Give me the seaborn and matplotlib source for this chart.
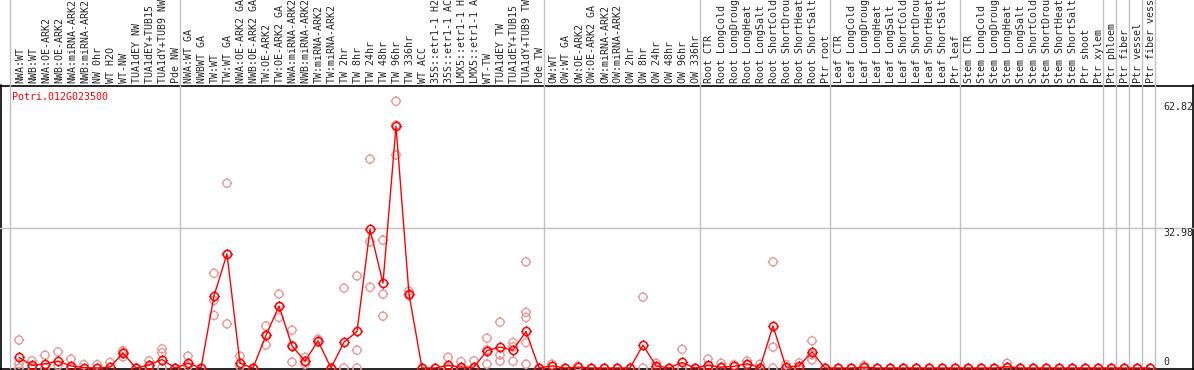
import numpy as np
import pandas as pd
import matplotlib
matplotlib.use("Agg")
import matplotlib.pyplot as plt
from matplotlib.path import Path
from matplotlib.transforms import blended_transform_factory
import seaborn as sns

sns.set_style("white")
plt.rcParams['font.family'] = ['DejaVu Sans Mono']

gene = "Potri.012G023500"

labels = [
    "NWA:WT", "NWB:WT", "NWA:OE-ARK2", "NWB:OE-ARK2", "NWA:miRNA-ARK2", "NWB:miRNA-ARK2",
    "NW 0hr", "WT H2O", "WT-NW", "TUA1dEY NW", "TUA1dEY+TUB15 NW", "TUA1dY+TUB9 NW", "Pde NW",
    "NWA:WT GA", "NWBWT GA", "TW:WT", "TW:WT GA", "NWA:OE-ARK2 GA", "NWB:OE-ARK2 GA",
    "TW:OE-ARK2", "TW:OE-ARK2 GA", "NWA:miRNA-ARK2 GA", "NWB:miRNA-ARK2 GA", "TW:miRNA-ARK2",
    "TW:miRNA-ARK2 GA", "TW 2hr", "TW 8hr", "TW 24hr", "TW 48hr", "TW 96hr", "TW 336hr",
    "WT ACC", "35S::etr1-1 H2O", "35S::etr1-1 ACC", "LMX5::etr1-1 H2O", "LMX5::etr1-1 ACC",
    "WT-TW", "TUA1dEY TW", "TUA1dEY+TUB15 TW", "TUA1dY+TUB9 TW", "Pde TW",
    "OW:WT", "OW:WT GA", "OW:OE-ARK2", "OW:OE-ARK2 GA", "OW:miRNA-ARK2", "OW:miRNA-ARK2 GA",
    "OW 2hr", "OW 8hr", "OW 24hr", "OW 48hr", "OW 96hr", "OW 336hr",
    "Root CTR", "Root LongCold", "Root LongDrought", "Root LongHeat", "Root LongSalt",
    "Root ShortCold", "Root ShortDrought", "Root ShortHeat", "Root ShortSalt", "Ptr root",
    "Leaf CTR", "Leaf LongCold", "Leaf LongDrought", "Leaf LongHeat", "Leaf LongSalt",
    "Leaf ShortCold", "Leaf ShortDrought", "Leaf ShortHeat", "Leaf ShortSalt", "Ptr leaf",
    "Stem CTR", "Stem LongCold", "Stem LongDrought", "Stem LongHeat", "Stem LongSalt",
    "Stem ShortCold", "Stem ShortDrought", "Stem ShortHeat", "Stem ShortSalt", "Ptr shoot",
    "Ptr xylem", "Ptr phloem", "Ptr fiber", "Ptr vessel", "Ptr fiber vessel",
]
group_sizes = [13, 28, 12, 10, 10, 11, 1, 1, 1, 1]

means = [
    2.5, 0.6, 1.0, 1.6, 0.5, 0.1, 0.0, 0.2, 3.5, 0.0, 0.7, 2.0, 0.0,
    1.1, 0.0, 17.0, 26.9, 1.1, 0.0, 7.7, 14.6, 5.2, 1.6, 6.4, 0.0, 6.1, 8.6,
    32.7, 20.0, 57.0, 17.4, 0.0, 0.0, 0.6, 0.2, 0.2, 4.1, 4.9, 4.2, 8.6, 0.0,
    0.5, 0.0, 0.2, 0.0, 0.0, 0.0, 0.0, 5.4, 0.5, 0.0, 1.3, 0.0,
    0.6, 0.2, 0.4, 1.0, 0.1, 9.9, 0.2, 0.5, 3.8, 0.0,
    0.0, 0.0, 0.2, 0.0, 0.0, 0.0, 0.0, 0.0, 0.0, 0.0,
    0.0, 0.0, 0.0, 0.3, 0.0, 0.0, 0.0, 0.0, 0.0, 0.0, 0.0,
    0.0, 0.0, 0.0, 0.0,
]

reps = [
    [6.6, 1.0, 0.0], [1.7, 0.2], [3.0, 0.0], [3.8, 0.6], [2.1, 0.0], [0.8], [0.8],
    [1.3], [4.1, 3.8, 2.6], [0.0], [1.7, 0.3], [4.5, 3.6, 0.0], [0.0],
    [2.8, 0.4], [0.0], [22.3, 15.9, 12.4], [43.5, 26.8, 10.4], [2.8, 0.4], [0.0],
    [9.9, 7.8, 5.4], [17.4, 14.5, 11.9], [8.9, 5.3, 1.4], [2.5, 1.5, 0.9], [6.8, 6.1],
    [0.0], [18.8, 0.0], [21.7, 4.2, 0.0], [49.2, 29.7, 19.0], [30.1, 17.4, 12.2],
    [62.82, 57.2, 50.2], [18.1, 17.2, 17.0], [0.0], [0.0], [2.5, 0.0], [1.5, 0.0],
    [1.7, 0.0], [7.0, 4.3, 0.9], [10.8, 3.1, 1.6], [6.0, 5.0, 1.6],
    [25.0, 13.1, 11.9, 6.0, 0.9], [0.0],
    [0.9], [0.0], [0.5], [0.0], [0.0], [0.0], [0.0], [16.7, 0.0], [1.1, 0.0], [0.0],
    [4.4, 0.0], [0.0],
    [2.1, 0.0], [1.1, 0.0], [0.8], [1.6, 0.8], [0.9, 0.0], [25.0, 4.9, 0.0], [0.8, 0.0],
    [1.2, 0.0], [6.4, 3.1, 1.9], [0.0],
    [0.0], [0.0], [0.6, 0.0], [0.0], [0.0], [0.0], [0.0], [0.0], [0.0], [0.0],
    [0.0], [0.0], [0.0], [1.1, 0.0], [0.0], [0.0], [0.0], [0.0], [0.0], [0.0], [0.0],
    [0.0], [0.0], [0.0], [0.0],
]

tick_values = [0, 32.98, 62.82]

pos = np.arange(len(labels))
df_mean = pd.DataFrame({"pos": pos, "value": means})
df_rep = pd.DataFrame([(i, v) for i, vals in enumerate(reps) for v in vals],
                      columns=["pos", "value"])

# circle marker with four little ticks
circ = Path.unit_circle()
t = 1.3
verts = np.concatenate([circ.vertices,
                        [[0, 1], [0, t], [0, -1], [0, -t], [1, 0], [t, 0], [-1, 0], [-t, 0]]])
codes = np.concatenate([circ.codes, [Path.MOVETO, Path.LINETO] * 4])
ring = Path(verts, codes)

W, H = 1194, 370
fig = plt.figure(figsize=(W / 100, H / 100), dpi=100)
x0, x1, ytop, ybot = 10, 1155, 85, 368
step, first = 13.0, 19
yscale = 4.245

frame = fig.add_axes([0, 0, 1, 1], zorder=0)
frame.set_xlim(0, W)
frame.set_ylim(H, 0)
frame.axis("off")

ax = fig.add_axes([x0 / W, (H - ybot) / H, (x1 - x0) / W, (ybot - ytop) / H], zorder=1)
ax.patch.set_alpha(0)
ax.set_xlim((x0 - first) / step, (x1 - first) / step)
ax.set_ylim(0, (ybot - ytop) / yscale)
ax.set_xticks([])
ax.set_yticks([])
for s in ax.spines.values():
    s.set_visible(False)

grey = "#c0c0c0"
up = ybot / (ybot - ytop)
bounds = np.cumsum(group_sizes) - 1 + 0.4
ax.axvline(ax.get_xlim()[0], ymin=0, ymax=up, color=grey, lw=1, clip_on=False, zorder=0)
for b in bounds:
    ax.axvline(b, ymin=0, ymax=up, color=grey, lw=1, clip_on=False, zorder=0)
ax.axhline(tick_values[1], xmin=-x0 / (x1 - x0), xmax=(W - 1 - x0) / (x1 - x0),
           color=grey, lw=1, clip_on=False, zorder=0)

# frame lines
frame.plot([0, W], [ytop + 0.5, ytop + 0.5], color="black", lw=1.2)
frame.plot([0, W], [ybot + 0.5, ybot + 0.5], color="black", lw=1.2)
frame.plot([0.5, 0.5], [ytop, H], color="black", lw=1.2)
frame.plot([W - 1, W - 1], [ytop, H], color="black", lw=1.2)

sns.scatterplot(data=df_rep, x="pos", y="value", marker=ring, s=7.5 ** 2,
                facecolor="none", edgecolor="#e89a9a", linewidth=1.0,
                clip_on=False, zorder=2, ax=ax, legend=False)
sns.lineplot(data=df_mean, x="pos", y="value", color="red", lw=1.0,
             marker=ring, ms=7.5, mfc="none", mec="red", mew=1.1,
             clip_on=False, zorder=3, ax=ax)
ax.set_xlabel("")
ax.set_ylabel("")

trans = blended_transform_factory(ax.transData, ax.transAxes)
for i, lab in enumerate(labels):
    ax.text(i + 0.08, 1 + 2 / (ybot - ytop), lab, rotation=90, ha="center", va="bottom",
            fontsize=7.2, transform=trans, clip_on=False)

ax.text(0.002, 1 - 12 / (ybot - ytop), gene, color="red", fontsize=7.2,
        ha="left", va="center", transform=ax.transAxes)

offsets = [6, -5, -6]
for v, off in zip(tick_values, [6, -5, -6]):
    txt = "0" if v == 0 else f"{v:.2f}"
    ax.annotate(txt, xy=(1, v), xycoords=("axes fraction", "data"),
                xytext=(8, off), textcoords="offset pixels",
                ha="left", va="center", fontsize=7.2)

fig.savefig("out.png", dpi=100)
